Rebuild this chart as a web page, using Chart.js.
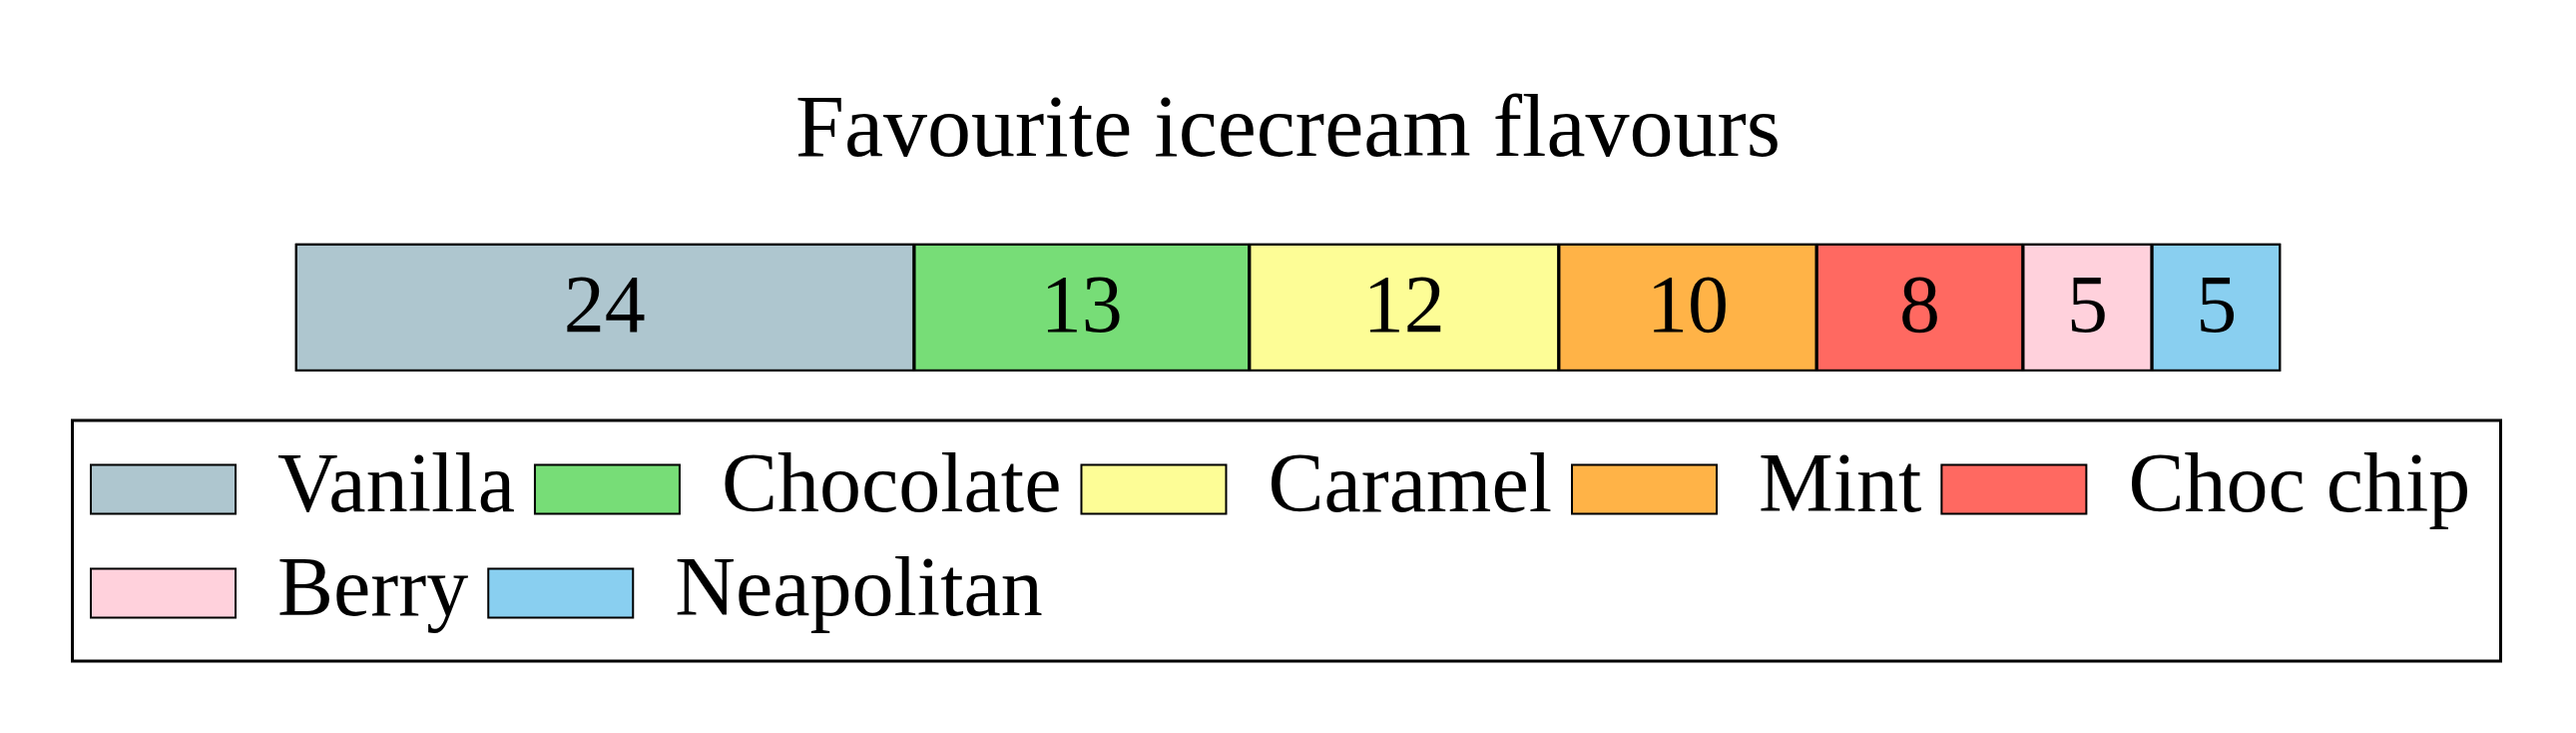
<!DOCTYPE html>
<html>
<head>
<meta charset="utf-8">
<script src="https://cdn.jsdelivr.net/npm/chart.js@4.4.0/dist/chart.umd.min.js"></script>
<style>
  html, body { margin: 0; padding: 0; background: #fff; }
  #wrap { width: 2581px; height: 734px; }
</style>
</head>
<body>
<div id="wrap"><canvas id="chart"></canvas></div>
<script>
const flavours = ['Vanilla', 'Chocolate', 'Caramel', 'Mint', 'Choc chip', 'Berry', 'Neapolitan'];
const votes = [24, 13, 12, 10, 8, 5, 5];
const colours = ['#AEC6CF', '#77DD77', '#FDFD96', '#FFB347', '#FF6961', '#FFD1DC', '#89CFF0'];

const serif = "'Liberation Serif', 'DejaVu Serif', serif";
const total = votes.reduce((a, b) => a + b, 0);
// empty room each side of the bar, in data units, so legend can be wider than the bar
const sideRoom = 8.7;

Chart.defaults.color = '#000';
Chart.defaults.font.family = serif;

// write the count in the middle of each segment
const segmentLabels = {
  id: 'segmentLabels',
  afterDatasetsDraw(chart) {
    const ctx = chart.ctx;
    ctx.save();
    ctx.font = `82px ${serif}`;
    ctx.fillStyle = '#000';
    ctx.textAlign = 'center';
    ctx.textBaseline = 'middle';
    chart.data.datasets.forEach((ds, i) => {
      const bar = chart.getDatasetMeta(i).data[0];
      const p = bar.getCenterPoint();
      ctx.fillText(String(ds.data[0]), p.x, p.y + 3);
    });
    // heavier outline round the whole bar
    const first = chart.getDatasetMeta(0).data[0];
    const last = chart.getDatasetMeta(chart.data.datasets.length - 1).data[0];
    const h = first.height;
    ctx.strokeStyle = '#000';
    ctx.lineWidth = 2;
    ctx.strokeRect(first.base + 1, first.y - h / 2 + 1, last.x - first.base - 2, h - 2);
    ctx.restore();
  }
};

// frame round the legend
const legendFrame = {
  id: 'legendFrame',
  afterDraw(chart) {
    const lg = chart.legend;
    const ctx = chart.ctx;
    ctx.save();
    ctx.strokeStyle = '#000';
    ctx.lineWidth = 3;
    ctx.strokeRect(lg.left + 1.5, lg.top - 7, lg.width - 6, lg.height + 23);
    ctx.restore();
  }
};

new Chart(document.getElementById('chart'), {
  type: 'bar',
  data: {
    labels: [''],
    datasets: flavours.map((name, i) => ({
      label: name,
      data: [votes[i]],
      backgroundColor: colours[i],
      borderColor: '#000',
      borderWidth: 2,
      borderSkipped: false,
      barThickness: 128
    }))
  },
  options: {
    indexAxis: 'y',
    responsive: true,
    maintainAspectRatio: false,
    animation: false,
    layout: { padding: { left: 71, right: 71, top: 0, bottom: 88 } },
    scales: {
      x: { stacked: true, display: false, min: -sideRoom, max: total + sideRoom },
      y: { stacked: true, display: false }
    },
    plugins: {
      tooltip: { enabled: false },
      title: {
        display: true,
        text: 'Favourite icecream flavours',
        color: '#000',
        font: { size: 88, weight: 'normal', family: serif },
        padding: { top: 80, bottom: 2 }
      },
      legend: {
        position: 'bottom',
        align: 'start',
        labels: {
          color: '#000',
          font: { size: 84, family: serif },
          boxWidth: 145,
          boxHeight: 49,
          padding: 20
        }
      }
    }
  },
  plugins: [segmentLabels, legendFrame]
});
</script>
</body>
</html>
